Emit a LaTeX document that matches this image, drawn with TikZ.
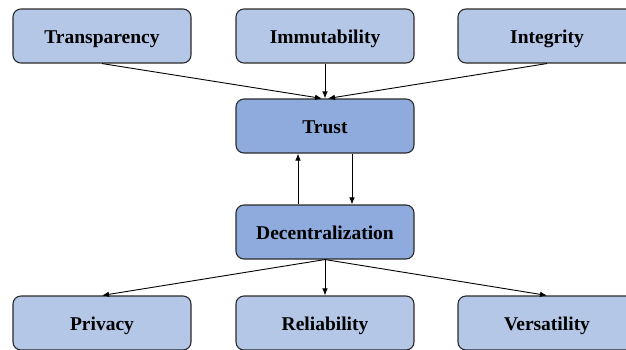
\documentclass[tikz,border=0pt]{standalone}
\usepackage{fontspec}
\setmainfont{Liberation Serif}
\usetikzlibrary{arrows.meta,calc}
\definecolor{boxlight}{HTML}{B4C7E7}
\definecolor{boxdark}{HTML}{8FAADC}
\definecolor{edge}{HTML}{2B2B2B}
\begin{document}
\begin{tikzpicture}[x=1pt,y=-1pt,
  card/.style={draw=edge, line width=1.1pt, rounded corners=8pt,
    minimum width=178pt, minimum height=54pt, inner sep=0pt,
    text height=14pt, text depth=0pt,
    font=\fontsize{19.5}{22}\selectfont\bfseries, text=black},
  outer/.style={card, fill=boxlight},
  core/.style={card, fill=boxdark},
  link/.style={draw=black, line width=0.9pt, -{Latex[length=7pt,width=5.5pt]}}]
\useasboundingbox (0,0) rectangle (626,349);
% top row
\node[outer] (transp) at (102,36) {Transparency};
\node[outer] (immut) at (325,36) {Immutability};
\node[outer] (integ) at (547,36) {Integrity};
% centre column
\node[core] (trust) at (325,126) {Trust};
\node[core] (decent) at (325,232) {Decentralization};
% bottom row
\node[outer] (priv) at (102,323) {Privacy};
\node[outer] (reli) at (325,323) {Reliability};
\node[outer] (versa) at (547,323) {Versatility};
% inputs to trust
\draw[link] (transp.south) -- ($(trust.north)+(-3,0)$);
\draw[link] (immut.south) -- (trust.north);
\draw[link] (integ.south) -- ($(trust.north)+(3,0)$);
% trust <-> decentralization
\draw[link] ($(trust.south)+(27,0)$) -- ($(decent.north)+(27,0)$);
\draw[link] ($(decent.north)+(-27,0)$) -- ($(trust.south)+(-27,0)$);
% outputs of decentralization
\draw[link] (decent.south) -- (priv.north);
\draw[link] (decent.south) -- (reli.north);
\draw[link] (decent.south) -- (versa.north);
\end{tikzpicture}
\end{document}
